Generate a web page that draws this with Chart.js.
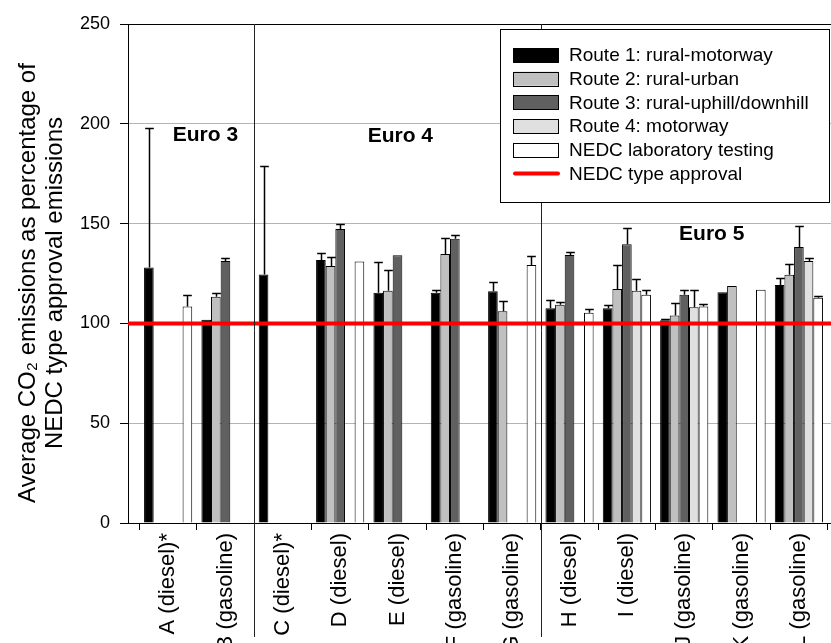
<!DOCTYPE html>
<html>
<head>
<meta charset="utf-8">
<script src="https://cdn.jsdelivr.net/npm/chart.js@4/dist/chart.umd.min.js"></script>
<style>
  body { margin: 0; background: #fff; }
</style>
</head>
<body>
<canvas id="emissions" width="831" height="643"></canvas>
<script>
// vehicles on the x axis
const vehicles = ['A (diesel)*', 'B (gasoline)', 'C (diesel)*', 'D (diesel)', 'E (diesel)', 'F (gasoline)',
                  'G (gasoline)', 'H (diesel)', 'I (diesel)', 'J (gasoline)', 'K (gasoline)', 'L (gasoline)']

// % of type approval CO2, with the upper error
const route1 = [128, 101.8, 124.5, 131.8, 115.3, 115.3, 116.1, 107.6, 107.6, 101.6, 115.6, 119.2]
const route1Err = [70, 0, 54.5, 3.5, 15.7, 1.5, 4.5, 4.3, 1.7, 0.5, 0, 3.5]
const route2 = [null, 113.3, null, 128.7, 116.4, 134.8, 106.1, 109.3, 117.2, 104, 118.8, 124.4]
const route2Err = [0, 2, 0, 4.8, 10.5, 8, 5.3, 1.6, 12, 6.1, 0, 5.3]
const route3 = [null, 131.3, null, 147.3, 134.2, 142.4, null, 134.3, 139.6, 114.3, null, 138.3]
const route3Err = [0, 1.7, 0, 2.5, 0, 2, 0, 1.7, 8.3, 2.5, 0, 10.5]
const route4 = [null, null, null, null, null, null, null, null, 116.4, 108.1, null, 131.3]
const route4Err = [0, 0, 0, 0, 0, 0, 0, 0, 5.8, 8.7, 0, 1.7]
const nedcLab = [108.5, null, null, 131, null, null, 129.2, 105.3, 114.4, 108.5, 116.9, 112.8]
const nedcLabErr = [5.5, 0, 0, 0, 0, 0, 4.5, 2, 2.3, 1.1, 0, 0.8]
const typeApproval = 100

const yTicks = [0, 50, 100, 150, 200, 250]
const yTitle = ['Average CO\u2082 emissions as percentage of', 'NEDC type approval emissions']
const eraBreaks = [1.5, 6.5]
const eraNotes = [
    { text: 'Euro 3', x: 0.65, y: 194.5 },
    { text: 'Euro 4', x: 4.05, y: 194 },
    { text: 'Euro 5', x: 9.48, y: 144.5 }
]

const xMin = -0.7
const xMax = 11.56
const font = "'Liberation Sans', Arial, sans-serif"

Chart.defaults.font.family = font
Chart.defaults.color = '#000'

const toPoints = (vals) => vals.map((v, i) => ({ x: i, y: v }))

const barSet = (label, vals, errs, fill) => ({
    type: 'bar',
    label: label,
    data: toPoints(vals),
    errors: errs,
    backgroundColor: fill,
    borderColor: '#000',
    borderWidth: 1,
    borderSkipped: 'bottom',
    categoryPercentage: 0.84,
    barPercentage: 1,
    order: 1
})

const extras = {
    id: 'extras',
    afterDatasetsDraw(chart) {
        const { ctx, scales: { y } } = chart
        ctx.save()
        ctx.strokeStyle = '#000'
        ctx.lineWidth = 1.5
        chart.data.datasets.forEach((ds, di) => {
            if (!ds.errors) return
            const meta = chart.getDatasetMeta(di)
            meta.data.forEach((bar, i) => {
                const e = ds.errors[i]
                const v = ds.data[i].y
                if (!e || v == null) return
                const top = Math.round(y.getPixelForValue(v + e)) + 0.5
                const cx = Math.round(bar.x) + 0.5
                const half = bar.width / 2 - 0.5
                ctx.beginPath()
                ctx.moveTo(cx, bar.y)
                ctx.lineTo(cx, top)
                ctx.moveTo(cx - half, top)
                ctx.lineTo(cx + half, top)
                ctx.stroke()
            })
        })
        ctx.restore()
    },
    afterDraw(chart) {
        const { ctx, scales: { x, y }, chartArea } = chart
        ctx.save()
        // axis title, two lines turned on their side
        ctx.save()
        ctx.translate(0, 283)
        ctx.rotate(-Math.PI / 2)
        ctx.font = '24px ' + font
        ctx.fillStyle = '#000'
        ctx.textAlign = 'center'
        ctx.textBaseline = 'middle'
        yTitle.forEach((t, i) => ctx.fillText(t, 0, 28 + i * 27))
        ctx.restore()
        // era separators
        ctx.strokeStyle = '#222'
        ctx.lineWidth = 1
        eraBreaks.forEach(b => {
            const px = Math.round(x.getPixelForValue(b)) + 0.5
            ctx.beginPath()
            ctx.moveTo(px, chartArea.top)
            ctx.lineTo(px, 637)
            ctx.stroke()
        })
        // era labels
        ctx.font = 'bold 21px ' + font
        ctx.fillStyle = '#000'
        ctx.textAlign = 'center'
        ctx.textBaseline = 'middle'
        eraNotes.forEach(n => {
            ctx.fillText(n.text, x.getPixelForValue(n.x), y.getPixelForValue(n.y))
        })
        // legend box
        const lx = 500, ly = 29, lw = 329, lh = 173
        ctx.fillStyle = '#fff'
        ctx.fillRect(lx, ly, lw, lh)
        ctx.strokeStyle = '#000'
        ctx.lineWidth = 1
        ctx.strokeRect(lx + 0.5, ly + 0.5, lw, lh)
        ctx.font = '19px ' + font
        ctx.textAlign = 'left'
        const items = chart.data.datasets.filter(d => d.type === 'bar')
            .concat(chart.data.datasets.filter(d => d.type === 'line'))
        items.forEach((d, i) => {
            const cy = 55 + i * 23.7
            if (d.type === 'bar') {
                ctx.fillStyle = d.backgroundColor
                ctx.fillRect(513.5, cy - 7, 45, 14)
                ctx.strokeStyle = '#000'
                ctx.strokeRect(513.5, Math.round(cy - 7) + 0.5, 45, 14)
            } else {
                ctx.strokeStyle = d.borderColor
                ctx.lineWidth = 4
                ctx.lineCap = 'round'
                ctx.beginPath()
                ctx.moveTo(515, cy)
                ctx.lineTo(558, cy)
                ctx.stroke()
                ctx.lineWidth = 1
            }
            ctx.fillStyle = '#000'
            ctx.fillText(d.label, 569, cy + 1)
        })
        ctx.restore()
    }
}

new Chart(document.getElementById('emissions'), {
    data: {
        datasets: [
            barSet('Route 1: rural-motorway', route1, route1Err, '#000000'),
            barSet('Route 2: rural-urban', route2, route2Err, '#c0c0c0'),
            barSet('Route 3: rural-uphill/downhill', route3, route3Err, '#606060'),
            barSet('Route 4: motorway', route4, route4Err, '#e0e0e0'),
            barSet('NEDC laboratory testing', nedcLab, nedcLabErr, '#ffffff'),
            {
                type: 'line',
                label: 'NEDC type approval',
                data: [{ x: xMin, y: typeApproval }, { x: xMax, y: typeApproval }],
                borderColor: '#ff0000',
                borderWidth: 4,
                pointRadius: 0,
                order: 0
            }
        ]
    },
    options: {
        responsive: false,
        animation: false,
        layout: { padding: { top: 24, right: 0, left: 0, bottom: 0 } },
        plugins: { legend: { display: false }, tooltip: { enabled: false } },
        scales: {
            x: {
                type: 'linear',
                min: xMin,
                max: xMax,
                offset: false,
                grid: { drawOnChartArea: false, tickLength: 7, color: '#000' },
                border: { color: '#000' },
                ticks: {
                    autoSkip: false,
                    minRotation: 90,
                    maxRotation: 90,
                    padding: 3,
                    font: { size: 22 },
                    callback: (v) => vehicles[v] ?? ''
                },
                afterBuildTicks: (s) => { s.ticks = vehicles.map((_, i) => ({ value: i })) },
                afterFit: (s) => { s.height = 120 }
            },
            y: {
                min: 0,
                max: 250,
                grid: {
                    color: (c) => c.tick.value === 250 ? '#000' : '#b4b4b4',
                    tickColor: '#000',
                    tickLength: 8
                },
                border: { color: '#000' },
                ticks: { padding: 10, font: { size: 18 } },
                afterBuildTicks: (s) => { s.ticks = yTicks.map(v => ({ value: v })) },
                afterFit: (s) => { s.width = 128 }
            }
        }
    },
    plugins: [extras]
})
</script>
</body>
</html>
